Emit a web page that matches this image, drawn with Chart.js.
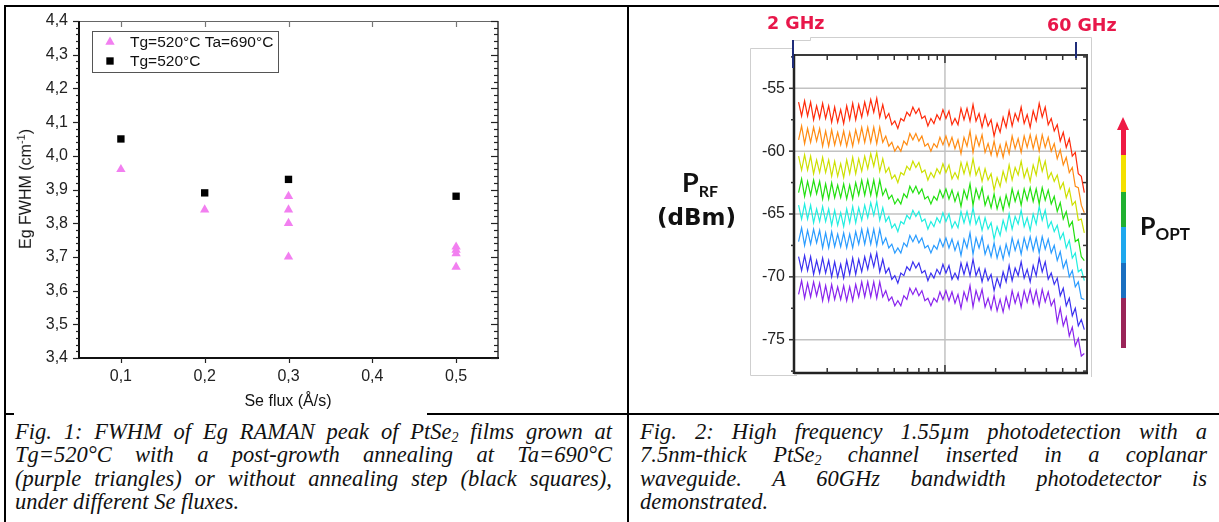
<!DOCTYPE html>
<html>
<head>
<meta charset="utf-8">
<script src="https://cdn.jsdelivr.net/npm/chart.js@4.4.0/dist/chart.umd.min.js"></script>
<style>
body { margin:0; width:1219px; height:522px; overflow:hidden; background:#fff; position:relative; font-family:'Liberation Sans', Arial, sans-serif; }
canvas { position:absolute; }
.rule { position:absolute; background:#000; }
.cap { position:absolute; font-family:'Liberation Serif', 'Times New Roman', serif; font-style:italic; font-size:22.5px; line-height:23.3px; color:#111; }
.cap .j { text-align:justify; text-align-last:justify; }
.cap sub { font-size:14px; line-height:0; vertical-align:-3px; }
.ghz { position:absolute; font:bold 17.5px 'DejaVu Sans', sans-serif; color:#e8174a; white-space:nowrap; }
.big { position:absolute; font-weight:bold; color:#111; white-space:nowrap; }
.bar { position:absolute; left:1121px; width:5px; }
</style>
</head>
<body>

<!-- table rules -->
<div class="rule" style="left:4px;top:5px;width:1215px;height:2px"></div>
<div class="rule" style="left:4px;top:5px;width:2px;height:517px"></div>
<div class="rule" style="left:627px;top:5px;width:2px;height:517px"></div>
<div class="rule" style="left:627px;top:413px;width:592px;height:2px"></div>
<div class="rule" style="left:427px;top:413px;width:200px;height:2px"></div>
<div class="rule" style="left:4px;top:413px;width:10px;height:2px"></div>

<!-- light frame of the inserted picture -->
<svg width="1219" height="522" style="position:absolute;left:0;top:0">
  <polyline points="750.5,375.5 750.5,48.5 792.5,48.5 792.5,40.5 810.5,40.5 810.5,37.5 1091.5,37.5 1091.5,377" fill="none" stroke="#cfcfcf" stroke-width="1"/>
  <polyline points="750.5,375.5 797,375.5" fill="none" stroke="#cfcfcf" stroke-width="1"/>
</svg>

<canvas id="fig1" width="620" height="412" style="left:0;top:0"></canvas>
<canvas id="fig2" width="591" height="404" style="left:628px;top:8px"></canvas>

<!-- fig 1 axis titles -->
<div style="position:absolute;left:25px;top:189px;transform:translate(-50%,-50%) rotate(-90deg);font-size:16px;color:#111;white-space:nowrap">Eg FWHM (cm<sup style="font-size:11px">-1</sup>)</div>
<div style="position:absolute;left:288px;top:401px;transform:translate(-50%,-50%);font-size:16px;color:#111;white-space:nowrap">Se flux (Å/s)</div>

<!-- fig 2 annotations -->
<div class="ghz" style="left:767px;top:13px">2 GHz</div>
<div class="ghz" style="left:1047px;top:15px">60 GHz</div>
<div style="position:absolute;left:792px;top:40px;width:2px;height:28px;background:#1f2d7a"></div>
<div style="position:absolute;left:1075px;top:42px;width:2px;height:16px;background:#1f2d7a"></div>

<div class="big" style="left:682px;top:165px;font:bold 27px Lato, sans-serif">P<span style="font-size:16px;vertical-align:-5px">RF</span></div>
<div class="big" style="left:657px;top:204px;font:bold 23px 'DejaVu Sans', sans-serif">(dBm)</div>
<div class="big" style="left:1140px;top:210px;font:bold 25px Lato, sans-serif">P<span style="font-size:17px;vertical-align:-5px">OPT</span></div>

<div style="position:absolute;left:1117px;top:117px;width:0;height:0;border-left:6.5px solid transparent;border-right:6.5px solid transparent;border-bottom:13px solid #ee1a44"></div>
<div class="bar" style="top:129px;height:26px;background:#ee1a44"></div>
<div class="bar" style="top:155px;height:37px;background:#f4e000"></div>
<div class="bar" style="top:192px;height:35px;background:#20b030"></div>
<div class="bar" style="top:227px;height:36px;background:#1ea8ee"></div>
<div class="bar" style="top:263px;height:35px;background:#1a6fc0"></div>
<div class="bar" style="top:298px;height:50px;background:#9a2458"></div>

<!-- captions -->
<div class="cap" style="left:15px;top:420px;width:597px">
  <div class="j">Fig. 1: FWHM of Eg RAMAN peak of PtSe<sub>2</sub> films grown at</div>
  <div class="j">Tg=520°C with a post-growth annealing at Ta=690°C</div>
  <div class="j">(purple triangles) or without annealing step (black squares),</div>
  <div>under different Se fluxes.</div>
</div>
<div class="cap" style="left:640px;top:420px;width:567px">
  <div class="j">Fig. 2: High frequency 1.55µm photodetection with a</div>
  <div class="j">7.5nm-thick PtSe<sub>2</sub> channel inserted in a coplanar</div>
  <div class="j">waveguide. A 60GHz bandwidth photodetector is</div>
  <div>demonstrated.</div>
</div>

<script>
Chart.defaults.font.family = "'Liberation Sans', Arial, sans-serif";

// Fig. 1 : FWHM of the Eg Raman peak vs Se flux
const fluxTicks = [0.1, 0.2, 0.3, 0.4, 0.5];
const fwhmTicks = [3.4, 3.5, 3.6, 3.7, 3.8, 3.9, 4.0, 4.1, 4.2, 4.3, 4.4];
const annealedFlux = [0.1, 0.2, 0.3, 0.3, 0.3, 0.3, 0.5, 0.5, 0.5, 0.5];
const annealedFwhm = [3.96, 3.84, 3.88, 3.84, 3.80, 3.70, 3.73, 3.72, 3.71, 3.67];
const asGrownFlux = [0.1, 0.2, 0.3, 0.5];
const asGrownFwhm = [4.05, 3.89, 3.93, 3.88];

// Fig. 2 : RF power (dBm) vs frequency (GHz, log axis), one trace per optical power
const freqGHz = [1.352, 1.409, 1.468, 1.529, 1.594, 1.660, 1.730, 1.803, 1.878, 1.957,
  2.040, 2.125, 2.214, 2.307, 2.404, 2.504, 2.610, 2.719, 2.833, 2.952,
  3.076, 3.205, 3.339, 3.480, 3.626, 3.778, 3.936, 4.101, 4.273, 4.453,
  4.642, 4.836, 5.039, 5.251, 5.471, 5.701, 5.940, 6.189, 6.449, 6.719,
  7.001, 7.295, 7.601, 7.920, 8.252, 8.599, 8.960, 9.335, 9.727, 10.135,
  10.563, 11.006, 11.468, 11.949, 12.450, 12.973, 13.517, 14.084, 14.675, 15.291,
  15.937, 16.606, 17.303, 18.029, 18.785, 19.573, 20.395, 21.250, 22.142, 23.071,
  24.040, 25.049, 26.100, 27.195, 28.336, 29.525, 30.764, 32.055, 33.400, 34.801,
  36.262, 37.784, 39.369, 41.021, 42.742, 44.535, 46.404, 48.351, 50.379, 52.493,
  54.71, 57.005, 59.397, 61.889, 64.486, 67.192];
const freqTicks = [2, 3, 4, 5, 6, 7, 8, 9, 10, 20, 30, 40, 50, 60];
const prfTicks = [-75, -70, -65, -60, -55];

const prfRed = [-56.1,-57.2,-56.0,-57.2,-56.1,-57.5,-56.4,-57.4,-56.2,-57.4,
  -56.4,-57.7,-56.5,-57.7,-56.7,-57.8,-56.4,-57.5,-56.2,-57.5,
  -56.3,-57.3,-56.1,-57.1,-55.9,-56.9,-55.8,-57.3,-56.3,-57.4,
  -57.0,-57.9,-57.6,-58.2,-57.4,-57.6,-56.9,-57.2,-56.5,-57.0,
  -56.6,-57.4,-57.2,-58.0,-57.4,-57.8,-57.1,-57.5,-56.7,-57.4,
  -56.8,-57.9,-57.4,-57.9,-56.6,-57.5,-56.6,-57.6,-56.3,-57.6,
  -57.0,-58.1,-57.1,-58.0,-57.5,-58.8,-57.8,-58.5,-57.3,-58.1,
  -56.8,-58.0,-57.0,-57.6,-56.5,-57.8,-57.1,-58.1,-56.8,-57.6,
  -56.2,-57.3,-56.5,-57.9,-57.4,
  -58.4,-57.9,-59.2,-58.5,-59.7,-59.0,-60.4,-60.1,-61.8,-62.0,-63.3];
const prfOrange = [-59.1,-58.0,-59.4,-58.2,-59.3,-58.1,-59.2,-58.2,-59.6,-58.4,
  -59.6,-58.3,-59.5,-58.5,-59.5,-58.4,-59.6,-58.5,-59.6,-58.3,
  -59.3,-58.1,-59.3,-58.1,-59.3,-58.1,-59.4,-58.1,-59.3,-58.8,
  -59.6,-59.3,-60.0,-59.6,-60.0,-59.2,-59.5,-58.6,-59.1,-58.6,
  -59.2,-58.8,-59.6,-59.4,-60.0,-59.4,-59.7,-58.9,-59.5,-58.8,
  -59.6,-58.9,-59.8,-59.1,-60.2,-58.9,-59.6,-58.4,-60.1,-58.8,
  -59.6,-58.7,-60.1,-59.4,-60.3,-59.2,-60.4,-59.5,-60.5,-59.3,
  -60.2,-58.8,-59.8,-59.0,-60.1,-58.8,-59.7,-58.7,-59.8,-58.8,
  -60.0,-58.7,-59.7,-58.9,-60.0,
  -59.4,-60.6,-59.9,-61.1,-60.5,-61.7,-61.3,-62.8,-62.9,-64.3,-64.9];
const prfYellow = [-60.4,-61.5,-60.3,-61.5,-60.4,-61.8,-60.7,-61.7,-60.5,-61.7,
  -60.7,-62.0,-60.8,-62.0,-61.0,-62.1,-60.7,-61.8,-60.5,-61.8,
  -60.6,-61.6,-60.4,-61.4,-60.2,-61.2,-60.1,-61.6,-60.6,-61.7,
  -61.3,-62.2,-61.9,-62.5,-61.7,-61.9,-61.2,-61.5,-60.8,-61.3,
  -60.9,-61.7,-61.5,-62.3,-61.7,-62.1,-61.4,-61.8,-61.0,-61.7,
  -61.1,-62.2,-61.7,-62.2,-60.9,-61.8,-60.9,-61.9,-60.6,-61.9,
  -61.3,-62.4,-61.4,-62.3,-61.8,-63.1,-62.1,-62.8,-61.6,-62.4,
  -61.1,-62.3,-61.3,-61.9,-60.8,-62.1,-61.4,-62.4,-61.1,-61.9,
  -60.5,-61.6,-60.8,-62.2,-61.7,
  -62.4,-61.9,-63.0,-62.5,-63.7,-63.0,-64.3,-64.0,-65.5,-65.4,-66.5];
const prfGreen = [-63.3,-62.2,-63.6,-62.4,-63.5,-62.3,-63.4,-62.4,-63.8,-62.6,
  -63.8,-62.5,-63.7,-62.7,-63.7,-62.6,-63.8,-62.7,-63.8,-62.5,
  -63.5,-62.3,-63.5,-62.3,-63.5,-62.3,-63.6,-62.3,-63.5,-63.0,
  -63.8,-63.5,-64.2,-63.8,-64.2,-63.4,-63.7,-62.8,-63.3,-62.8,
  -63.4,-63.0,-63.8,-63.6,-64.2,-63.6,-63.9,-63.1,-63.7,-63.0,
  -63.8,-63.1,-64.0,-63.3,-64.4,-63.1,-63.8,-62.6,-64.3,-63.0,
  -63.8,-62.9,-64.3,-63.6,-64.5,-63.4,-64.6,-63.7,-64.7,-63.5,
  -64.4,-63.0,-64.0,-63.2,-64.3,-63.0,-63.9,-62.9,-64.0,-63.0,
  -64.2,-62.9,-63.9,-63.1,-64.2,
  -63.6,-64.8,-64.1,-65.4,-64.8,-66.0,-65.6,-67.2,-67.0,-68.4,-68.7];
const prfCyan = [-64.3,-65.4,-64.2,-65.4,-64.3,-65.7,-64.6,-65.6,-64.4,-65.6,
  -64.6,-65.9,-64.7,-65.9,-64.9,-66.0,-64.6,-65.7,-64.4,-65.7,
  -64.5,-65.5,-64.3,-65.3,-64.1,-65.1,-64.0,-65.5,-64.5,-65.6,
  -65.2,-66.1,-65.8,-66.4,-65.6,-65.8,-65.1,-65.4,-64.7,-65.2,
  -64.8,-65.6,-65.4,-66.2,-65.6,-66.0,-65.3,-65.7,-64.9,-65.6,
  -65.0,-66.1,-65.6,-66.1,-64.8,-65.7,-64.8,-65.8,-64.5,-65.8,
  -65.2,-66.3,-65.3,-66.2,-65.7,-67.0,-66.0,-66.7,-65.5,-66.3,
  -65.0,-66.2,-65.2,-65.8,-64.7,-66.0,-65.3,-66.3,-65.0,-65.8,
  -64.4,-65.5,-64.7,-66.1,-65.6,
  -66.4,-65.9,-67.0,-66.5,-67.7,-67.1,-68.5,-68.1,-69.6,-69.4,-70.3];
const prfSky = [-67.2,-66.1,-67.5,-66.3,-67.4,-66.2,-67.3,-66.3,-67.7,-66.5,
  -67.7,-66.4,-67.6,-66.6,-67.6,-66.5,-67.7,-66.6,-67.7,-66.4,
  -67.4,-66.2,-67.4,-66.2,-67.4,-66.2,-67.5,-66.2,-67.4,-66.9,
  -67.7,-67.4,-68.1,-67.7,-68.1,-67.3,-67.6,-66.7,-67.2,-66.7,
  -67.3,-66.9,-67.7,-67.5,-68.1,-67.5,-67.8,-67.0,-67.6,-66.9,
  -67.7,-67.0,-67.9,-67.2,-68.3,-67.0,-67.7,-66.5,-68.2,-66.9,
  -67.7,-66.8,-68.2,-67.5,-68.4,-67.3,-68.5,-67.6,-68.6,-67.4,
  -68.3,-66.9,-67.9,-67.1,-68.2,-66.9,-67.8,-66.8,-67.9,-66.9,
  -68.1,-66.8,-67.8,-67.0,-68.1,
  -67.5,-68.7,-68.0,-69.3,-68.7,-70.0,-69.5,-70.8,-70.4,-71.7,-71.8];
const prfBlue = [-68.4,-69.5,-68.3,-69.5,-68.4,-69.8,-68.7,-69.7,-68.5,-69.7,
  -68.7,-70.0,-68.8,-70.0,-69.0,-70.1,-68.7,-69.8,-68.5,-69.8,
  -68.6,-69.6,-68.4,-69.4,-68.2,-69.2,-68.1,-69.6,-68.6,-69.7,
  -69.3,-70.2,-69.9,-70.5,-69.7,-69.9,-69.2,-69.5,-68.8,-69.3,
  -68.9,-69.7,-69.5,-70.3,-69.7,-70.1,-69.4,-69.8,-69.0,-69.7,
  -69.1,-70.2,-69.7,-70.2,-68.9,-69.8,-68.9,-69.9,-68.6,-69.9,
  -69.3,-70.4,-69.4,-70.3,-69.8,-71.1,-70.1,-70.8,-69.6,-70.4,
  -69.1,-70.3,-69.3,-69.9,-68.8,-70.1,-69.4,-70.4,-69.1,-69.9,
  -68.5,-69.6,-68.8,-70.2,-69.7,
  -70.6,-70.1,-71.5,-70.9,-72.3,-71.7,-73.1,-72.5,-73.9,-73.4,-74.2];
const prfViolet = [-71.4,-70.3,-71.7,-70.5,-71.6,-70.4,-71.5,-70.5,-71.9,-70.7,
  -71.9,-70.6,-71.8,-70.8,-71.8,-70.7,-71.9,-70.8,-71.9,-70.6,
  -71.6,-70.4,-71.6,-70.4,-71.6,-70.4,-71.7,-70.4,-71.6,-71.1,
  -71.9,-71.6,-72.3,-71.9,-72.3,-71.5,-71.8,-70.9,-71.4,-70.9,
  -71.5,-71.1,-71.9,-71.7,-72.3,-71.7,-72.0,-71.2,-71.8,-71.1,
  -71.9,-71.2,-72.1,-71.4,-72.5,-71.2,-71.9,-70.7,-72.4,-71.1,
  -71.9,-71.0,-72.4,-71.7,-72.6,-71.5,-72.7,-71.8,-72.8,-71.6,
  -72.5,-71.1,-72.1,-71.3,-72.4,-71.1,-72.0,-71.0,-72.1,-71.1,
  -72.3,-71.0,-72.0,-71.2,-72.3,
  -71.8,-73.6,-72.5,-73.9,-73.2,-74.7,-74.0,-75.5,-74.9,-76.3,-76.1];

const traces = [prfRed, prfOrange, prfYellow, prfGreen, prfCyan, prfSky, prfBlue, prfViolet];
const traceColors = ['#ff2a0a', '#ff8c14', '#cde000', '#22e010', '#20eee0', '#2a9cff', '#3a30f0', '#8a24ee'];

function seg(ctx, x1, y1, x2, y2) {
    ctx.beginPath();
    ctx.moveTo(x1, y1);
    ctx.lineTo(x2, y2);
    ctx.stroke();
}

// frame, ticks and legend of fig 1
const fig1Frame = {
    id: 'fig1Frame',
    afterDraw(chart) {
        const { ctx, chartArea: a, scales: { x, y } } = chart;
        ctx.save();
        ctx.strokeStyle = '#666'; ctx.lineWidth = 1;
        seg(ctx, a.left, a.top + 0.5, a.right, a.top + 0.5);
        ctx.strokeStyle = '#333'; ctx.lineWidth = 1.5;
        seg(ctx, a.right, a.top, a.right, a.bottom);
        ctx.strokeStyle = '#111'; ctx.lineWidth = 2;
        seg(ctx, a.left, a.top, a.left, a.bottom + 1);
        seg(ctx, a.left - 1, a.bottom, a.right + 1, a.bottom);

        ctx.lineWidth = 1.2;
        fluxTicks.forEach(v => {
            const px = Math.round(x.getPixelForValue(v)) + 0.5;
            ctx.strokeStyle = '#222'; seg(ctx, px, a.bottom, px, a.bottom + 5);
            ctx.strokeStyle = '#777'; seg(ctx, px, a.top, px, a.top + 6);
        });
        ctx.strokeStyle = '#222';
        for (let i = 0; i <= 50; i++) {
            const py = Math.round(y.getPixelForValue(3.4 + i * 0.02)) + 0.5;
            const major = i % 5 === 0;
            seg(ctx, a.left - (major ? 6 : 3), py, a.left, py);
            seg(ctx, a.right - (major ? 7 : 4), py, a.right, py);
        }

        // legend
        ctx.strokeStyle = '#555'; ctx.lineWidth = 1;
        ctx.strokeRect(92.5, 31.5, 186, 41);
        const rows = [42, 61];
        chart.data.datasets.forEach((d, i) => {
            ctx.fillStyle = d.backgroundColor;
            Chart.helpers.drawPoint(ctx, { pointStyle: d.pointStyle, radius: d.pointRadius, borderWidth: 0 }, 110, rows[i]);
            ctx.fillStyle = '#111';
            ctx.font = "15.5px 'Liberation Sans', Arial, sans-serif";
            ctx.textBaseline = 'middle';
            ctx.fillText(d.label, 130, rows[i] + 1);
        });
        ctx.restore();
    }
};

new Chart(document.getElementById('fig1'), {
    type: 'scatter',
    data: {
        datasets: [
            {
                label: 'Tg=520°C Ta=690°C',
                data: annealedFlux.map((f, i) => ({ x: f, y: annealedFwhm[i] })),
                pointStyle: 'triangle', pointRadius: 5.4, borderWidth: 0,
                backgroundColor: '#f27ff0'
            },
            {
                label: 'Tg=520°C',
                data: asGrownFlux.map((f, i) => ({ x: f, y: asGrownFwhm[i] })),
                pointStyle: 'rect', pointRadius: 5.2, borderWidth: 0,
                backgroundColor: '#000'
            }
        ]
    },
    options: {
        responsive: false, animation: false,
        layout: { padding: { left: 0, top: 21, right: 122, bottom: 0 } },
        plugins: { legend: { display: false }, tooltip: { enabled: false } },
        scales: {
            x: {
                type: 'linear', min: 0.05, max: 0.55,
                afterBuildTicks: s => { s.ticks = fluxTicks.map(v => ({ value: v })); },
                afterFit: s => { s.height = 54; },
                grid: { display: false, drawTicks: false }, border: { display: false },
                ticks: { padding: 9, color: '#222', font: { size: 16 }, maxRotation: 0,
                    callback: v => v.toFixed(1).replace('.', ',') }
            },
            y: {
                min: 3.4, max: 4.4,
                afterBuildTicks: s => { s.ticks = fwhmTicks.map(v => ({ value: v })); },
                afterFit: s => { s.width = 79; },
                grid: { display: false, drawTicks: false }, border: { display: false },
                ticks: { padding: 11, color: '#222', font: { size: 16 },
                    callback: v => v.toFixed(1).replace('.', ',') }
            }
        }
    },
    plugins: [fig1Frame]
});

// grid, frame and ticks of fig 2
const fig2Frame = {
    id: 'fig2Frame',
    beforeDatasetsDraw(chart) {
        const { ctx, chartArea: a, scales: { x, y } } = chart;
        ctx.save();
        ctx.strokeStyle = '#c2c2c2'; ctx.lineWidth = 1.5;
        prfTicks.forEach(v => {
            const py = y.getPixelForValue(v);
            seg(ctx, a.left, py, a.right, py);
        });
        const gx = x.getPixelForValue(10);
        seg(ctx, gx, a.top, gx, a.bottom);
        ctx.restore();
    },
    afterDraw(chart) {
        const { ctx, chartArea: a, scales: { x, y } } = chart;
        ctx.save();
        ctx.strokeStyle = '#3a3a3a'; ctx.lineWidth = 2;
        seg(ctx, a.left, a.top, a.right + 1, a.top);
        seg(ctx, a.right, a.top, a.right, a.bottom + 1);
        ctx.strokeStyle = '#222'; ctx.lineWidth = 2.5;
        seg(ctx, a.left, a.top - 1, a.left, a.bottom + 1);
        seg(ctx, a.left, a.bottom, a.right + 1, a.bottom);

        ctx.lineWidth = 1.5; ctx.strokeStyle = '#333';
        freqTicks.forEach(v => {
            const px = x.getPixelForValue(v);
            const len = v === 10 ? 8 : 5;
            seg(ctx, px, a.bottom, px, a.bottom - len);
            seg(ctx, px, a.top, px, a.top + len);
        });
        prfTicks.forEach(v => {
            const py = y.getPixelForValue(v);
            seg(ctx, a.left - 5, py, a.left, py);
            seg(ctx, a.right - 6, py, a.right, py);
            const pm = y.getPixelForValue(v - 2.5);
            seg(ctx, a.left - 3, pm, a.left, pm);
            seg(ctx, a.right - 4, pm, a.right, pm);
        });
        const pTop = y.getPixelForValue(-52.5);
        seg(ctx, a.left - 3, pTop, a.left, pTop);
        seg(ctx, a.right - 4, pTop, a.right, pTop);
        ctx.restore();
    }
};

new Chart(document.getElementById('fig2'), {
    type: 'line',
    data: {
        datasets: traces.map((vals, i) => ({
            data: freqGHz.map((f, k) => ({ x: f, y: vals[k] })),
            borderColor: traceColors[i],
            borderWidth: 1.2,
            pointRadius: 0,
            tension: 0
        }))
    },
    options: {
        responsive: false, animation: false,
        layout: { padding: { left: 0, top: 47, right: 132, bottom: 0 } },
        plugins: { legend: { display: false }, tooltip: { enabled: false } },
        scales: {
            x: {
                type: 'logarithmic', min: 1.27, max: 69.7,
                afterBuildTicks: s => { s.ticks = freqTicks.map(v => ({ value: v })); },
                afterFit: s => { s.height = 39; },
                grid: { display: false, drawTicks: false }, border: { display: false },
                ticks: { display: false }
            },
            y: {
                min: -77.65, max: -52.35,
                afterBuildTicks: s => { s.ticks = prfTicks.map(v => ({ value: v })); },
                afterFit: s => { s.width = 166; },
                grid: { display: false, drawTicks: false }, border: { display: false },
                ticks: { padding: 9, color: '#222', font: { size: 16 }, callback: v => String(v) }
            }
        }
    },
    plugins: [fig2Frame]
});
</script>
</body>
</html>
